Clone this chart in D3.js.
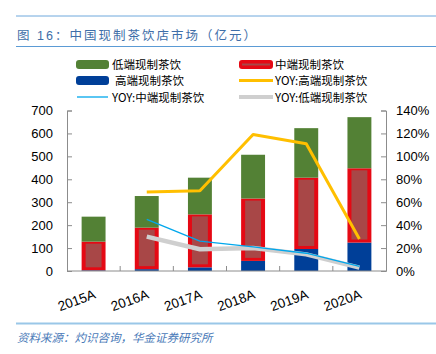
<!DOCTYPE html>
<html>
<head>
<meta charset="utf-8">
<script src="https://cdn.jsdelivr.net/npm/d3@7"></script>
<style>
  body { margin: 0; background: #fff; }
  svg { display: block; font-family: "Liberation Sans", "Noto Sans CJK SC", sans-serif; }
</style>
</head>
<body>
<div id="chart"></div>
<script>
var years = ["2015A", "2016A", "2017A", "2018A", "2019A", "2020A"];
var highEnd = [3, 8, 16, 44, 96, 124];
var midEnd = [125, 181, 231, 272, 311, 324];
var lowEnd = [109, 138, 160, 191, 216, 223];
var yoyHigh = [null, 69, 70, 119, 111, 28];
var yoyMid = [null, 45, 26, 21, 15.5, 4];
var yoyLow = [null, 30, 19, 20, 14.5, 3];
var leftTicks = [0, 100, 200, 300, 400, 500, 600, 700];
var rightTicks = [0, 20, 40, 60, 80, 100, 120, 140];

(function() {
    var W = 436, H = 354;
    var svg = d3.select("#chart").append("svg").attr("width", W).attr("height", H);

    // frame lines, title, source
    svg.append("line").attr("x1", 16).attr("x2", W).attr("y1", 16).attr("y2", 16)
        .attr("stroke", "#6fa8dc").attr("stroke-width", 1);
    svg.append("line").attr("x1", 16).attr("x2", W).attr("y1", 46.5).attr("y2", 46.5)
        .attr("stroke", "#5b9bd5").attr("stroke-width", 1.2);
    svg.append("text").attr("x", 17).attr("y", 40)
        .attr("fill", "#3e6ea8").attr("font-size", 12.5).attr("letter-spacing", 2)
        .text("图 16：中国现制茶饮店市场（亿元）");
    svg.append("line").attr("x1", 16).attr("x2", W).attr("y1", 323.5).attr("y2", 323.5)
        .attr("stroke", "#9ac7e8").attr("stroke-width", 2);
    svg.append("text").attr("x", 17).attr("y", 342)
        .attr("fill", "#4a7ab8").attr("font-size", 11.5).attr("font-style", "italic")
        .text("资料来源：灼识咨询，华金证券研究所");

    var pl = 67, pr = 386, pt = 110.5, pb = 271;

    var x = d3.scaleBand().domain(years).range([pl, pr]).paddingInner(0.55).paddingOuter(0.275);
    var xb = d3.scaleBand().domain(years).range([pl, pr]);
    var y = d3.scaleLinear().domain([0, 700]).range([pb, pt]);
    var y2 = d3.scaleLinear().domain([0, 140]).range([pb, pt]);

    var axisColor = "#8c8c8c";

    // left axis
    var gl = svg.append("g").attr("transform", "translate(" + pl + ",0)")
        .call(d3.axisRight(y).tickValues(leftTicks).tickSize(5).tickFormat(d3.format("d")));
    gl.select(".domain").attr("stroke", axisColor);
    gl.selectAll(".tick line").attr("stroke", axisColor);
    gl.selectAll(".tick text").attr("x", -14).attr("text-anchor", "end")
        .attr("font-size", 13).attr("fill", "#000").attr("font-family", "Liberation Sans, sans-serif");

    // right axis
    var gr = svg.append("g").attr("transform", "translate(" + pr + ",0)")
        .call(d3.axisLeft(y2).tickValues(rightTicks).tickSize(5).tickFormat(function(d) { return d + "%"; }));
    gr.select(".domain").attr("stroke", axisColor);
    gr.selectAll(".tick line").attr("stroke", axisColor);
    gr.selectAll(".tick text").attr("x", 10).attr("text-anchor", "start")
        .attr("font-size", 13).attr("fill", "#000").attr("font-family", "Liberation Sans, sans-serif");

    // bars
    var bars = svg.append("g");
    years.forEach(function(yr, i) {
        var bx = x(yr), bw = x.bandwidth();
        var h1 = highEnd[i], h2 = h1 + midEnd[i], h3 = h2 + lowEnd[i];
        bars.append("rect").attr("x", bx).attr("width", bw)
            .attr("y", y(h1)).attr("height", y(0) - y(h1)).attr("fill", "#003f98");
        bars.append("rect").attr("x", bx).attr("width", bw)
            .attr("y", y(h2)).attr("height", y(h1) - y(h2)).attr("fill", "#e50914");
        bars.append("rect").attr("x", bx + 4).attr("width", bw - 8)
            .attr("y", y(h2) + 2).attr("height", Math.max(0, y(h1) - y(h2) - 5)).attr("fill", "#a84747");
        bars.append("rect").attr("x", bx).attr("width", bw)
            .attr("y", y(h3)).attr("height", y(h2) - y(h3)).attr("fill", "#538135");
    });

    // x axis
    var gx = svg.append("g").attr("transform", "translate(0," + pb + ")");
    gx.append("line").attr("x1", pl).attr("x2", pr).attr("stroke", axisColor);
    gx.selectAll(".xt").data(years.slice(1)).enter().append("line")
        .attr("x1", function(d) { return xb(d); }).attr("x2", function(d) { return xb(d); })
        .attr("y1", 0).attr("y2", -5).attr("stroke", axisColor);
    gx.selectAll(".xl").data(years).enter().append("text")
        .attr("font-size", 13.5).attr("text-anchor", "end").attr("font-family", "Liberation Sans, sans-serif")
        .attr("transform", function(d) {
            return "translate(" + (x(d) + x.bandwidth() / 2 + 3) + ",27) rotate(-20)";
        })
        .text(function(d) { return d; });

    // yoy lines
    function drawLine(vals, color, width) {
        var pts = [];
        vals.forEach(function(v, i) {
            if (v != null) pts.push([x(years[i]) + x.bandwidth() / 2, y2(v)]);
        });
        svg.append("path").attr("d", d3.line()(pts)).attr("fill", "none")
            .attr("stroke", color).attr("stroke-width", width)
            .attr("stroke-linejoin", "round");
    }
    drawLine(yoyLow, "#cfcfcf", 4.5);
    drawLine(yoyMid, "#00a7ec", 1.3);
    drawLine(yoyHigh, "#ffbf00", 3);

    // legend
    var lg = svg.append("g").attr("font-size", 11.5).attr("font-family", "Noto Sans CJK SC, sans-serif");
    function legendText(tx, ty, s) {
        lg.append("text").attr("x", tx).attr("y", ty + 4.5).text(s);
    }
    lg.append("rect").attr("x", 76).attr("y", 60).attr("width", 33).attr("height", 9).attr("rx", 3).attr("fill", "#538135");
    legendText(112, 64, "低端现制茶饮");
    lg.append("rect").attr("x", 239).attr("y", 60).attr("width", 34).attr("height", 9).attr("rx", 3).attr("fill", "#e50914");
    lg.append("line").attr("x1", 242).attr("x2", 270).attr("y1", 64.5).attr("y2", 64.5).attr("stroke", "#a84747").attr("stroke-width", 2);
    legendText(275, 64, "中端现制茶饮");
    lg.append("rect").attr("x", 76).attr("y", 76).attr("width", 33).attr("height", 9).attr("rx", 3).attr("fill", "#003f98");
    legendText(115, 80, "高端现制茶饮");
    lg.append("line").attr("x1", 239).attr("x2", 273).attr("y1", 80.5).attr("y2", 80.5).attr("stroke", "#ffbf00").attr("stroke-width", 3);
    legendText(275, 80, "YOY:高端现制茶饮");
    lg.append("line").attr("x1", 77).attr("x2", 108).attr("y1", 97).attr("y2", 97).attr("stroke", "#00a7ec").attr("stroke-width", 1.3);
    legendText(112, 97, "YOY:中端现制茶饮");
    lg.append("line").attr("x1", 239).attr("x2", 273).attr("y1", 97).attr("y2", 97).attr("stroke", "#cfcfcf").attr("stroke-width", 4);
    legendText(275, 97, "YOY:低端现制茶饮");
})();
</script>
</body>
</html>
